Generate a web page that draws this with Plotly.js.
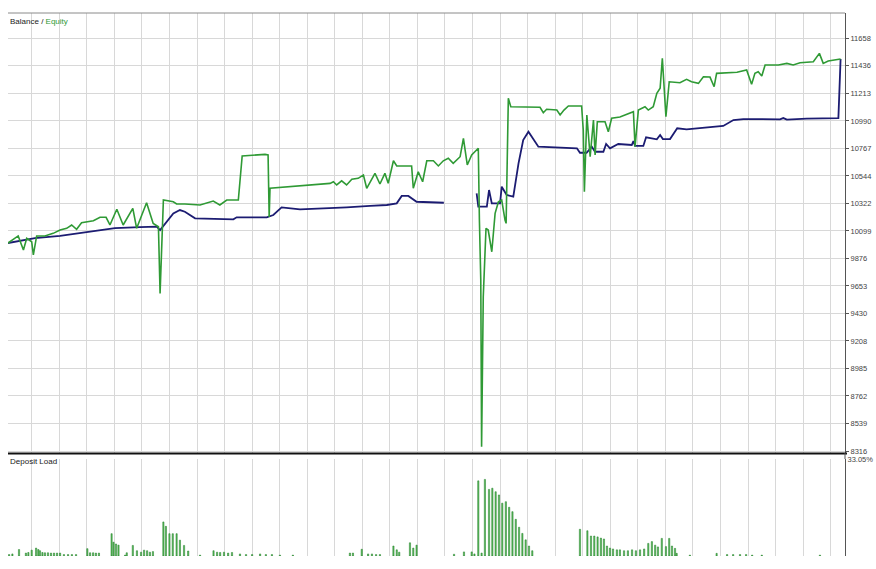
<!DOCTYPE html>
<html>
<head>
<meta charset="utf-8">
<script src="https://cdn.plot.ly/plotly-3.0.1.min.js"></script>
<style>
html,body{margin:0;padding:0;background:#fff;}
#chart{width:876px;height:569px;}
</style>
</head>
<body>
<div id="chart"></div>
<script>
// Balance curve (trade number, account value)
const balanceX = [1.4,11.2,20.3,30.1,40.2,49.3,55.4,56.6,61.4,63.8,65.6,69.3,83.2,84.4,95.3,97.7,100.7,107.4,118.3,124.3,132.8,138.9,142.5,144.3,146.7,149.7,159.6,165,171.5,172.1,175.2,176.0,177.0,180.0,180.6,182.4,184.8,186.7,188.4,190.3,193.9,207.9,209.0,211.4,213.3,214.5,217.5,218.5,219.9,222.9,227.8,228.4,229.0,232.0,233.0,236.9,238.1,239.1,241.7,244.3,247.7,255.0,261.0,264.7,268.3,281.6,282.8,284.1,291.3,302.8,303.6];
const balanceY = [10001,10041,10058,10090,10122,10130,10133,10106,10241,10268,10254,10201,10193,10209,10209,10228,10290,10274,10282,10290,10301,10309,10322,10382,10382,10335,10327,null,10403,10295,10295,10430,10322,10322,10457,10390,10376,10646,10835,10902,10781,10768,10732,10732,10781,10740,10740,10803,10768,10803,10795,10827,10787,10787,10857,10841,10876,10843,10843,10930,10922,10938,10949,10997,11005,11003,11013,11000,11008,11013,11491];

// Equity curve
const equityX = [1.4,5.1,7.0,8.2,10.0,10.6,11.8,14.8,17.8,20.3,22.7,24.5,26.3,28.1,32.4,34.8,37.0,38.4,40.9,43.2,46.7,48.1,51.7,54.1,56.0,56.6,57.8,61.4,62.6,65.6,71.1,75.9,78.3,80.8,85.0,86.4,94.7,95.8,96.2,96.5,118.3,119.5,120.7,122.5,124.3,126.2,128.5,130.4,131.6,134.6,136.4,138.2,139.4,141.3,142.5,147.9,148.5,150.3,151.9,153.4,155.8,157.6,159.4,161.2,163.0,165.5,166.7,168.1,169.7,172.1,172.5,173.0,173.3,173.9,174.9,175.7,177.0,178.2,179.4,180.6,181.8,182.2,183.0,183.9,194.5,195.7,196.9,200.6,201.8,203.2,204.8,209.6,210.2,210.6,211.5,212.7,213.9,214.5,215.3,218.1,219.3,220.5,223.5,228.4,229.0,230.2,232.6,233.8,235.6,236.9,238.1,238.9,240.2,241.4,245.3,247.7,249.5,252.0,253.8,256.2,257.7,258.6,266.0,269.5,271.3,272.5,273.7,275.0,276.2,281.0,284.1,286.4,288.9,293.7,295.9,297.3,299.1,302.2,303.6];
const equityY = [10001,10058,9944,10039,10011,9904,10058,10058,10079,10106,10120,10147,10112,10165,10181,10209,10209,10147,10274,10147,10282,10120,10327,10160,10133,9593,10349,10335,10317,10317,10309,10341,10309,10349,10349,10706,10719,10714,10211,10444,10484,10497,10471,10505,10471,10517,10525,10552,10444,10565,10479,10565,10484,10667,10625,10625,10444,10578,10497,10667,10667,10625,10667,10687,10646,10700,10849,10633,10714,10768,10187,9701,8351,9566,10120,10106,9930,10241,10335,10349,10187,10160,11173,11105,11100,11056,11084,11078,11038,11078,11111,11111,10916,10416,11038,10700,10997,10714,10983,10983,10902,11011,11021,11064,10781,11078,11105,11078,11105,11213,11254,11497,11024,11307,11299,11327,11307,11294,11348,11345,11267,11375,11384,11402,11286,11375,11388,11354,11443,11443,11456,11443,11461,11469,11537,11456,11475,11489,11491];

// Deposit load (%) per trade
const loadX = [1.8,3.0,5.4,7.9,8.8,10.0,11.6,12.4,13.0,13.9,14.8,15.9,17.0,18.1,19.2,20.3,21.7,23.2,24.6,26.1,30.2,31.2,32.3,33.3,34.4,39.0,39.7,40.6,41.5,43.9,44.5,46.7,48.2,49.7,50.8,51.9,52.9,54.0,57.8,58.7,60.0,61.2,62.6,63.8,65.3,66.8,71.1,76.0,77.3,78.4,79.8,81.3,82.7,85.6,87.8,90.0,92.9,95.0,97.2,100.1,104.8,125.5,126.6,129.8,132.1,133.5,135.0,136.4,141.3,142.5,143.4,147.3,148.5,149.7,163.3,166.9,169.7,170.7,172.1,173.3,174.5,176.0,177.2,178.4,179.6,180.8,182.1,183.3,184.5,185.7,186.9,188.1,189.3,190.5,191.7,209.0,211.7,213.0,214.2,215.4,216.6,217.7,218.8,219.9,221.0,222.4,223.5,225.0,226.4,227.9,229.3,230.8,232.3,233.8,235.1,236.3,237.3,238.7,240.2,241.4,242.4,243.5,244.1,248.9,258.6,262.4,264.6,267.1,269.3,271.5,275.0,296.1];
const loadY = [0.5,0.7,2.2,1.0,1.2,2.0,2.7,2.2,1.8,1.2,1.1,1.1,1.0,1.0,1.0,1.0,0.5,0.5,0.5,0.5,2.5,1.1,1.1,1.0,1.0,7.6,4.7,4.1,3.7,0.3,1.1,3.6,1.8,1.3,2.0,1.8,1.3,1.5,11.6,10.1,7.6,7.6,7.6,5.4,3.6,1.7,0.3,1.8,1.3,1.2,1.3,1.0,1.2,0.7,0.5,0.5,0.7,0.5,0.5,0.3,0.3,1.0,1.0,2.3,0.7,0.7,0.5,0.5,3.4,2.1,1.3,4.5,2.7,3.7,0.6,1.4,1.4,0.7,25.6,1.0,26.1,22.7,23.1,21.9,20.8,18.0,18.5,16.6,15.1,12.5,9.8,7.7,5.5,3.4,1.8,9.1,8.6,6.8,6.8,6.5,6.1,5.8,3.4,2.7,2.4,2.1,2.1,1.8,1.8,2.1,1.8,2.1,2.4,4.3,4.9,3.7,3.1,6.0,3.2,6.0,3.4,2.6,0.9,0.3,0.9,0.5,0.5,0.5,0.5,0.3,0.3,0.3];

// Right-hand tick labels
const priceTicks = [11658,11436,11213,10990,10767,10544,10322,10099,9876,9653,9430,9208,8985,8762,8539,8316];
const loadTicks = [33.05];
const loadTickText = ['33.05%'];

const W = 876, H = 569;
const px = v => v / W;
const py = v => 1 - v / H;

const tickFont = {family: 'Liberation Sans, Arial, sans-serif', size: 7.5, color: '#444'};

const traces = [
  {x: balanceX, y: balanceY, type: 'scatter', mode: 'lines', connectgaps: false,
   line: {color: '#1c1c72', width: 1.8}, xaxis: 'x', yaxis: 'y', hoverinfo: 'skip'},
  {x: equityX, y: equityY, type: 'scatter', mode: 'lines',
   line: {color: '#2f9a35', width: 1.6}, xaxis: 'x', yaxis: 'y', hoverinfo: 'skip'},
  {x: loadX, y: loadY, type: 'bar', width: 0.45,
   marker: {color: '#5cbf5c', line: {color: '#1f7a26', width: 0.5}},
   xaxis: 'x2', yaxis: 'y2', hoverinfo: 'skip'}
];

const xCommon = {
  range: [1.4, 305.2], tick0: 0, dtick: 10, showgrid: true, gridcolor: '#d8d8d8', gridwidth: 1,
  showticklabels: false, zeroline: false, showline: false, ticks: ''
};

const layout = {
  width: W, height: H,
  margin: {l: 0, r: 0, t: 0, b: 0, pad: 0},
  paper_bgcolor: '#ffffff', plot_bgcolor: '#ffffff',
  showlegend: false,
  xaxis: Object.assign({}, xCommon, {domain: [px(8), px(845)], anchor: 'y'}),
  xaxis2: Object.assign({}, xCommon, {domain: [px(8), px(845)], anchor: 'y2', matches: 'x'}),
  yaxis: {
    domain: [py(453), py(13)], range: [8300, 11864], side: 'right', anchor: 'x',
    tickmode: 'array', tickvals: priceTicks, ticktext: priceTicks.map(String),
    showgrid: true, gridcolor: '#d8d8d8', zeroline: false,
    showline: true, linecolor: '#555', linewidth: 1,
    ticks: 'outside', ticklen: 3, tickcolor: '#555', tickfont: tickFont
  },
  yaxis2: {
    domain: [py(556), py(459)], range: [0, 33.05], side: 'right', anchor: 'x2',
    tickmode: 'array', tickvals: loadTicks, ticktext: loadTickText,
    showgrid: false, zeroline: false,
    showline: true, linecolor: '#555', linewidth: 1,
    ticks: '', tickfont: tickFont
  },
  bargap: 0,
  shapes: [
    {type: 'line', xref: 'paper', yref: 'paper', x0: px(8), x1: px(845), y0: py(13), y1: py(13),
     line: {color: '#8a8a8a', width: 1}},
    {type: 'line', xref: 'paper', yref: 'paper', x0: px(8), x1: px(847), y0: py(453.5), y1: py(453.5),
     line: {color: '#111', width: 2}},
    {type: 'line', xref: 'paper', yref: 'paper', x0: px(845), x1: px(845), y0: py(453), y1: py(459),
     line: {color: '#555', width: 1}}
  ],
  annotations: [
    {xref: 'paper', yref: 'paper', x: px(8), y: py(15), xanchor: 'left', yanchor: 'top',
     showarrow: false, align: 'left',
     text: '<span style="color:#222">Balance / </span><span style="color:#2f9a35">Equity</span>',
     font: {family: 'Liberation Sans, Arial, sans-serif', size: 8}},
    {xref: 'paper', yref: 'paper', x: px(8), y: py(455), xanchor: 'left', yanchor: 'top',
     showarrow: false, align: 'left', text: 'Deposit Load',
     font: {family: 'Liberation Sans, Arial, sans-serif', size: 8, color: '#222'}}
  ]
};

Plotly.newPlot('chart', traces, layout, {staticPlot: true, displayModeBar: false});
</script>
</body>
</html>
